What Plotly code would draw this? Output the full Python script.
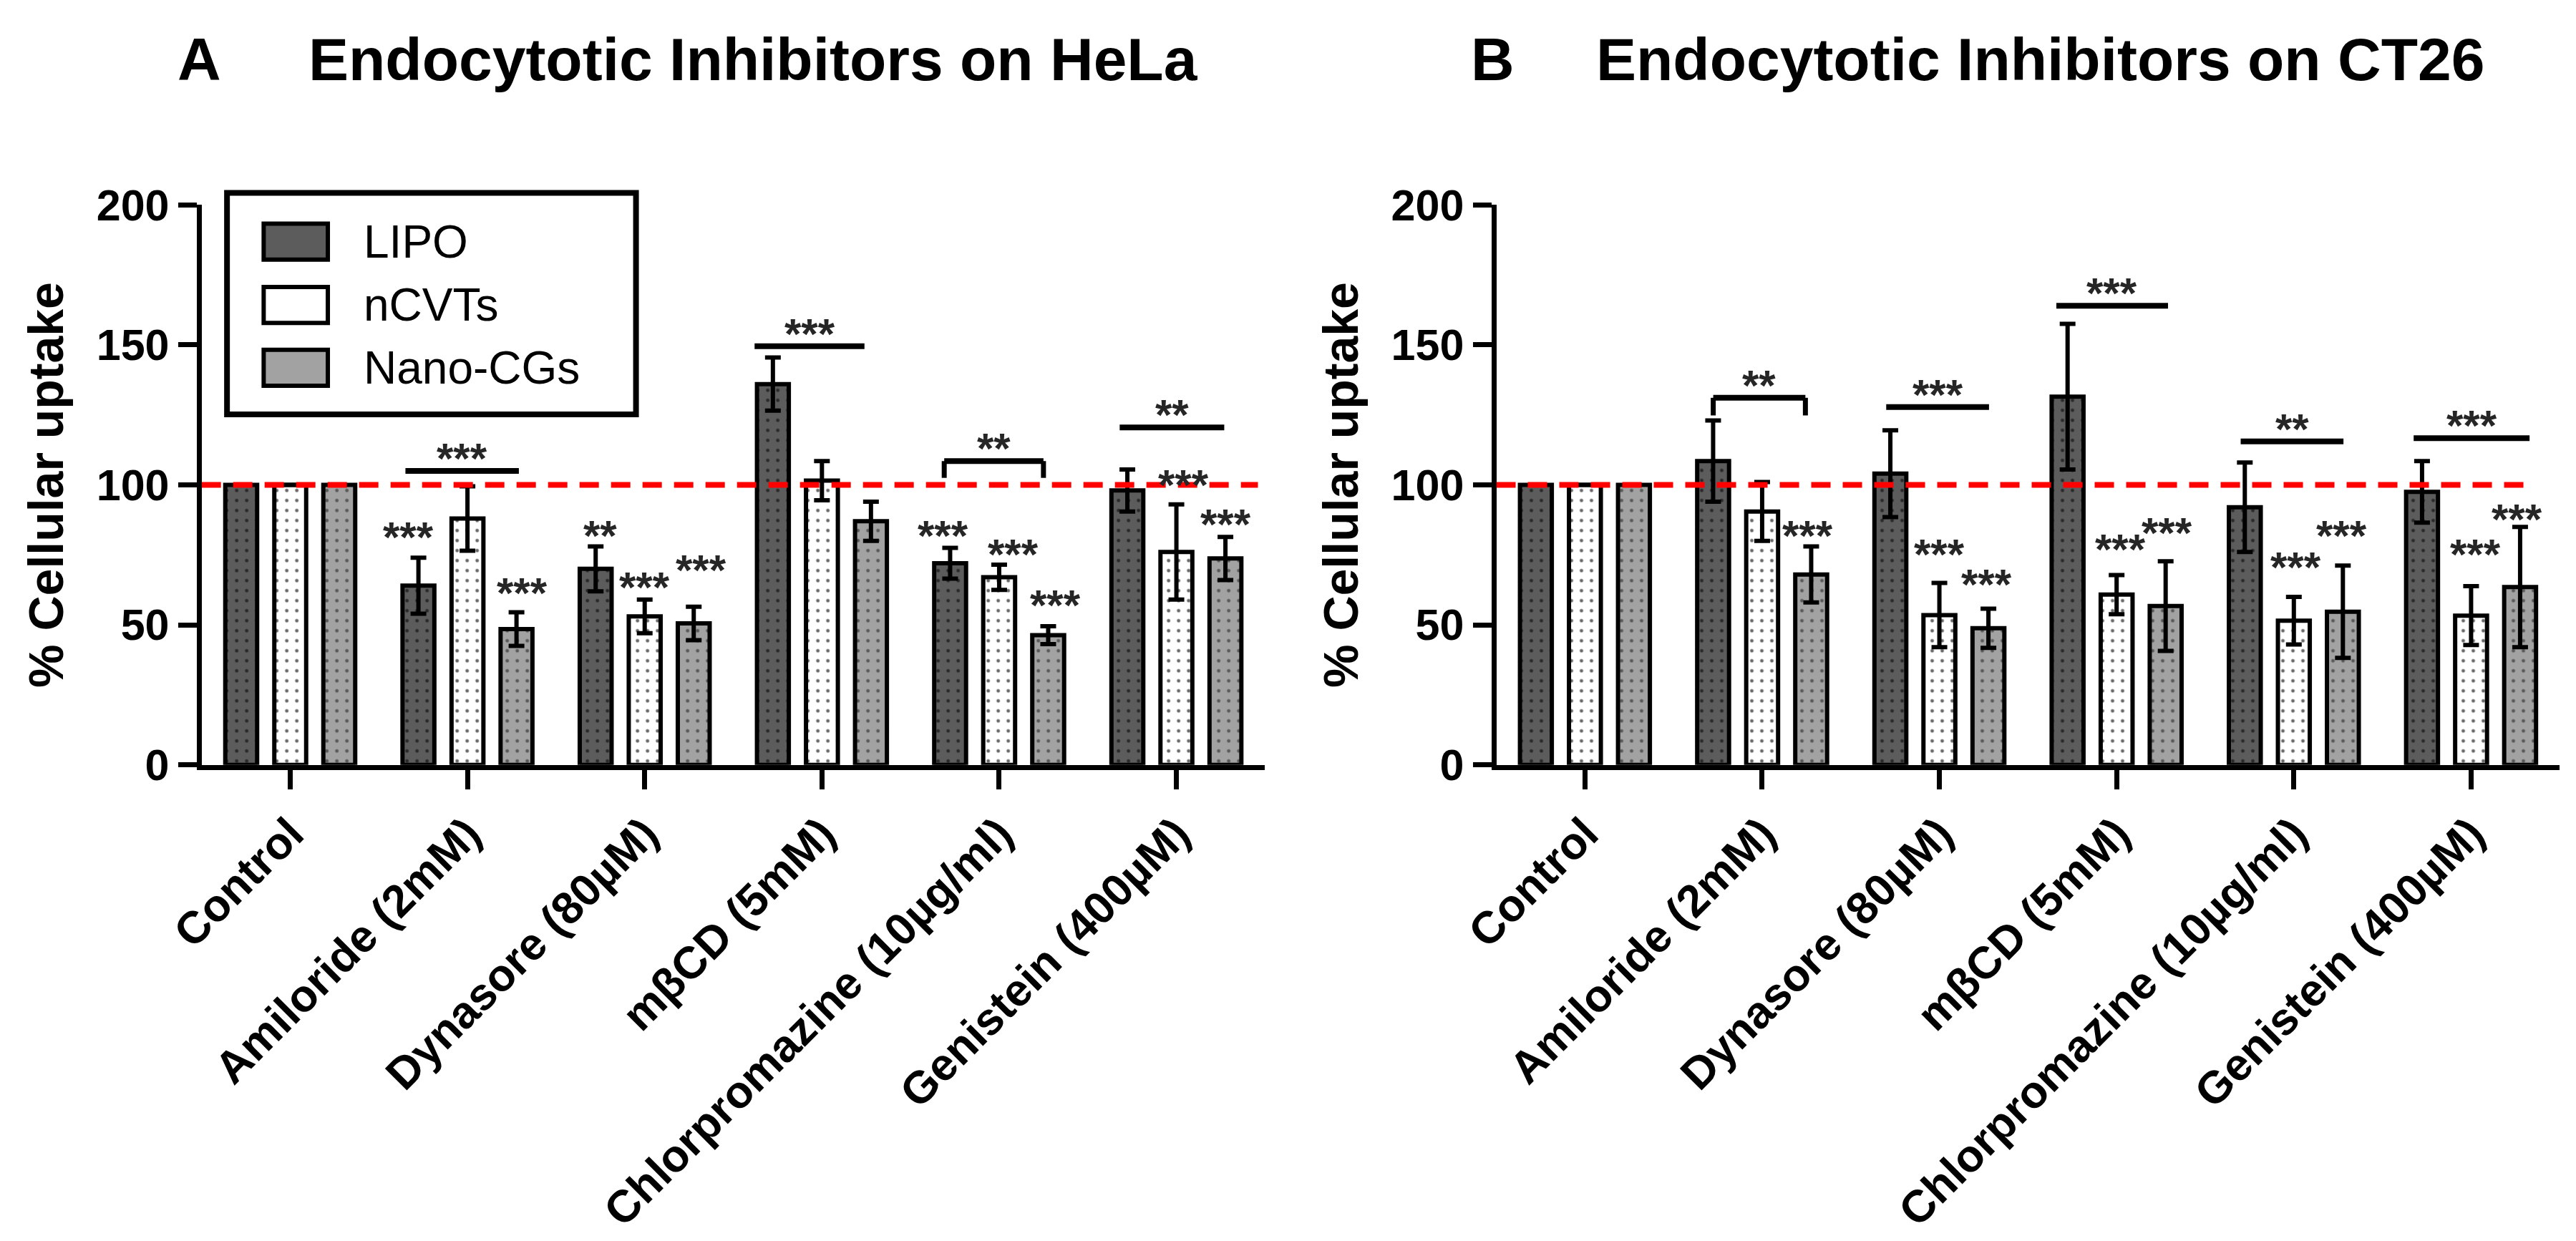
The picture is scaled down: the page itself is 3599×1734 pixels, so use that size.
import plotly.graph_objects as go

PAGE_W, PAGE_H = 3599, 1734
BODY_MARGIN = 8
W, H = PAGE_W - 2 * BODY_MARGIN, PAGE_H - 2 * BODY_MARGIN

categories = ["Control", "Amiloride (2mM)", "Dynasore (80µM)", "mβCD (5mM)",
              "Chlorpromazine (10µg/ml)", "Genistein (400µM)"]
series_names = ["LIPO", "nCVTs", "Nano-CGs"]

# Panel A: HeLa
hela_lipo = [100, 64, 70, 136, 72, 98]
hela_lipo_err = [None, 10, 8, 9.5, 5.5, 7.5]
hela_ncvt = [100, 88, 53, 101.5, 67, 76]
hela_ncvt_err = [None, 11.5, 6, 7, 4.5, 17]
hela_nano = [100, 48.5, 50.5, 87, 46.3, 73.7]
hela_nano_err = [None, 6, 6, 7, 3.2, 7.7]

# Panel B: CT26
ct26_lipo = [100, 108.5, 104, 131.5, 92, 97.5]
ct26_lipo_err = [None, 14.5, 15.5, 26, 16, 11]
ct26_ncvt = [100, 90.5, 53.5, 60.8, 51.5, 53.3]
ct26_ncvt_err = [None, 10.5, 11.5, 7, 8.5, 10.5]
ct26_nano = [100, 68, 48.8, 56.7, 54.7, 63.5]
ct26_nano_err = [None, 10, 7, 16, 16.5, 21.5]

y_ticks = [0, 50, 100, 150, 200]
reference_level = 100

# significance brackets: (x0, x1, y, label, drop)
hela_brackets = [(0.65, 1.29, 105, "***", 0), (2.62, 3.24, 149.5, "***", 0),
                 (3.69, 4.25, 108.5, "**", 6), (4.68, 5.27, 120.5, "**", 0)]
hela_stars = [(0.665, 84.9, "***"), (1.307, 64.9, "***"), (1.748, 85.3, "**"),
              (2.0, 67, "***"), (2.32, 73.1, "***"), (3.683, 85.3, "***"),
              (4.078, 78.9, "***"), (4.317, 60.6, "***"), (5.04, 103.7, "***"),
              (5.28, 89.6, "***")]
ct26_brackets = [(0.724, 1.244, 131.1, "**", 6.3), (1.70, 2.28, 127.8, "***", 0),
                 (2.66, 3.29, 164, "***", 0), (3.70, 4.28, 115.5, "**", 0),
                 (4.676, 5.33, 116.7, "***", 0)]
ct26_stars = [(1.255, 85.4, "***"), (2.0, 78.8, "***"), (2.267, 68, "***"),
              (3.02, 80.6, "***"), (3.283, 86.5, "***"), (4.01, 74.3, "***"),
              (4.27, 85.4, "***"), (5.025, 78.8, "***"), (5.26, 91.4, "***")]

FONT = "Liberation Sans, Arial, sans-serif"
colors = ["#5c5c5c", "#ffffff", "#a2a2a2"]
dotcolors = ["#2a2a2a", "#6a6a6a", "#5a5a5a"]


def px(x):
    return (x - BODY_MARGIN) / W


def py(y):
    return 1 - (y - BODY_MARGIN) / H


fig = go.Figure()

panels = [
    ("x", "y", [hela_lipo, hela_ncvt, hela_nano], [hela_lipo_err, hela_ncvt_err, hela_nano_err]),
    ("x2", "y2", [ct26_lipo, ct26_ncvt, ct26_nano], [ct26_lipo_err, ct26_ncvt_err, ct26_nano_err]),
]
for xa, ya, vals, errs in panels:
    for i, name in enumerate(series_names):
        fig.add_trace(go.Bar(
            x=categories, y=vals[i], name=name, xaxis=xa, yaxis=ya,
            showlegend=False,
            marker=dict(color=colors[i], line=dict(color="black", width=6),
                        pattern=dict(shape=".", size=14, solidity=0.1,
                                     fgcolor=dotcolors[i], bgcolor=colors[i],
                                     fillmode="replace")),
            error_y=dict(type="data", array=errs[i], visible=True,
                         color="black", thickness=6, width=11),
        ))

axis_common = dict(showline=True, linewidth=7, linecolor="black", ticks="outside",
                   tickwidth=7, tickcolor="black", showgrid=False, zeroline=False)
yfont = dict(family=FONT, size=61, color="black", weight="bold")
xfont = dict(family=FONT, size=63, color="black", weight="bold")
ytitle = dict(text="% Cellular uptake", standoff=26,
              font=dict(family=FONT, size=68, color="black", weight="bold"))
ydom = [py(1109), py(270)]
fig.update_layout(
    width=W, height=H, margin=dict(l=0, r=0, t=0, b=0),
    paper_bgcolor="white", plot_bgcolor="white",
    barmode="group", bargap=0.17, bargroupgap=0.35,
    xaxis=dict(domain=[px(232), px(1740)], type="category", range=[-0.5, 5.5],
               tickangle=-45, ticklen=27, anchor="y", tickfont=xfont, **axis_common),
    yaxis=dict(domain=ydom, range=[0, 200], tickvals=y_ticks, ticklen=26, anchor="x",
               tickfont=yfont, title=ytitle, **axis_common),
    xaxis2=dict(domain=[px(2068), px(3576)], type="category", range=[-0.5, 5.5],
                tickangle=-45, ticklen=27, anchor="y2", tickfont=xfont, **axis_common),
    yaxis2=dict(domain=ydom, range=[0, 200], tickvals=y_ticks, ticklen=26, anchor="x2",
                tickfont=yfont, title=ytitle, **axis_common),
)

shapes = []
annotations = []

# reference dashed line
for xr, yr, xend in [("x", "y", 5.46), ("x2", "y2", 5.36)]:
    shapes.append(dict(type="line", xref=xr, yref=yr, x0=-0.5, x1=xend,
                       y0=reference_level, y1=reference_level, layer="above",
                       line=dict(color="#ff0000", width=8, dash="27px,17px")))

# significance
starfont = dict(family=FONT, size=60, color="#262626", weight="bold")
for xr, yr, brackets, stars in [("x", "y", hela_brackets, hela_stars),
                                ("x2", "y2", ct26_brackets, ct26_stars)]:
    for x0, x1, yv, lab, drop in brackets:
        shapes.append(dict(type="line", xref=xr, yref=yr, x0=x0, x1=x1, y0=yv, y1=yv,
                           line=dict(color="black", width=8)))
        if drop:
            for xe in (x0, x1):
                shapes.append(dict(type="line", xref=xr, yref=yr, x0=xe, x1=xe,
                                   y0=yv, y1=yv - drop, line=dict(color="black", width=7)))
        annotations.append(dict(xref=xr, yref=yr, x=(x0 + x1) / 2, y=yv + 8, text=lab,
                                showarrow=False, yshift=-14, font=starfont))
    for xs, ys, lab in stars:
        annotations.append(dict(xref=xr, yref=yr, x=xs, y=ys, text=lab, showarrow=False,
                                yshift=-14, font=starfont))

# panel titles
for letter, title, lx, tx in [("A", "Endocytotic Inhibitors on HeLa", 196, 382),
                              ("B", "Endocytotic Inhibitors on CT26", 2030, 2208)]:
    for txt, xx in [(letter, lx), (title, tx)]:
        annotations.append(dict(xref="paper", yref="paper", x=px(xx), y=py(52), text=txt,
                                xanchor="left", yanchor="middle", showarrow=False,
                                font=dict(family=FONT, size=84, color="black", weight="bold")))

# legend box (panel A)
shapes.append(dict(type="rect", xref="paper", yref="paper", x0=px(268), x1=px(848),
                   y0=py(584), y1=py(252), line=dict(color="black", width=8),
                   fillcolor="white", layer="above"))
for i, (name, cy) in enumerate(zip(series_names, [325, 420, 514])):
    shapes.append(dict(type="rect", xref="paper", yref="paper", x0=px(320), x1=px(411),
                       y0=py(cy + 27), y1=py(cy - 27), line=dict(color="black", width=6),
                       fillcolor=colors[i], layer="above"))
    annotations.append(dict(xref="paper", yref="paper", x=px(460), y=py(cy), text=name,
                            xanchor="left", yanchor="middle", showarrow=False,
                            font=dict(family=FONT, size=64, color="black")))

fig.update_layout(shapes=shapes, annotations=annotations)
fig.write_html("out.html")
